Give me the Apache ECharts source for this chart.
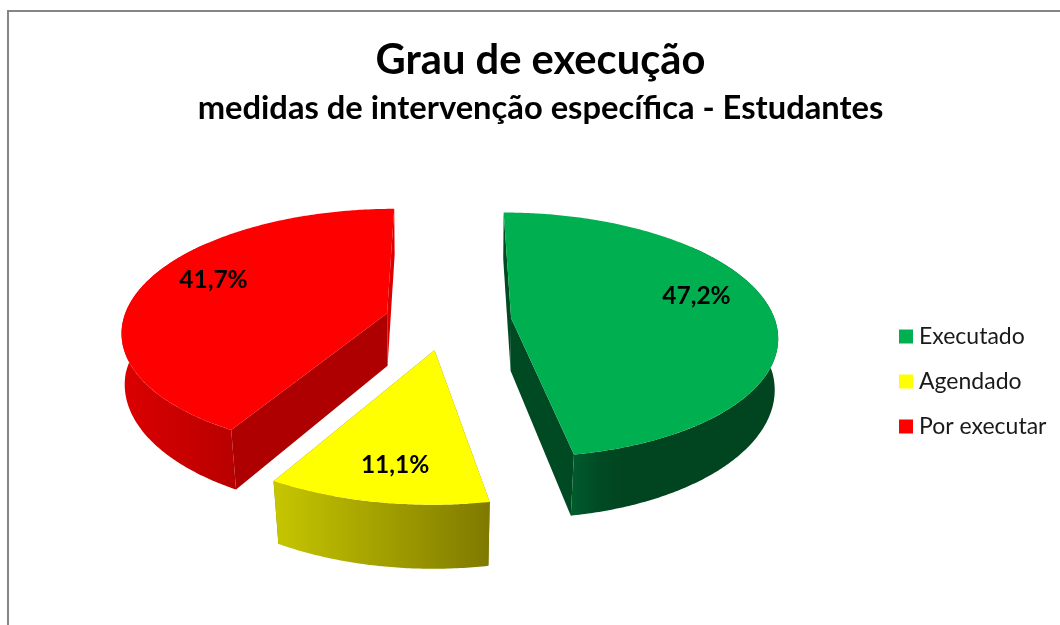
<!DOCTYPE html>
<html>
<head>
<meta charset="utf-8">
<style>html,body{margin:0;padding:0;background:#fff}#c{width:1060px;height:625px}</style>
<script src="https://cdn.jsdelivr.net/npm/echarts@6/dist/echarts.min.js"></script>
</head>
<body>
<div id="c"></div>
<script>
var categories = ['Executado', 'Agendado', 'Por executar'];
var shares = [47.2, 11.1, 41.7];
var percentLabels = ['47,2%', '11,1%', '41,7%'];
var titleText = 'Grau de execução';
var subtitleText = 'medidas de intervenção específica - Estudantes';

var FONT = 'Lato, Carlito, sans-serif';
var looks = [
  { top: '#00b050', face0: '#004a23', face: '#004a23', wall: [[0, '#005c2d'], [0.14, '#004a23'], [0.25, '#004520'], [1, '#004520']], lab: [9, -15], nudge: [0, 0], scale: 1 },
  { top: '#ffff00', face0: '#7f7a00', face: '#7f7a00', wall: [[0, '#c6c600'], [1, '#7f7a00']], lab: [-3, 19], nudge: [-4, 1], scale: 1.025 },
  { top: '#ff0000', face0: '#ae0000', face: '#dd0000', wall: [[0, '#dc0000'], [1, '#b80000']], lab: [-7, -13], nudge: [-3, 0], scale: 1 }
];

// scene geometry: a tilted disc seen in perspective
var CX = 449.5, CY = 320.5, R = 264, EXPLODE = 62, TILT = 0.457, PERSP = 0.138 / 265, DEPTH = 53;
var total = shares.reduce(function (a, b) { return a + b; }, 0);

function project(X, Z, lower, look) {
  var s = 1 / (1 - Z * PERSP);
  var x = CX + X * s, y = CY + Z * TILT * s;
  if (lower) {
    var shrink = 1 - (0.008 + 0.018 * Math.max(0, Z / R));
    x = CX + (x - CX) * shrink;
    y += DEPTH * s;
  }
  return [x + look.nudge[0], y + look.nudge[1]];
}
function sliceFrame(idx) {
  var start = 0;
  for (var i = 0; i < idx; i++) start += shares[i];
  var a0 = start / total * Math.PI * 2;
  var a1 = (start + shares[idx]) / total * Math.PI * 2;
  var mid = (a0 + a1) / 2;
  return { a0: a0, a1: a1, mid: mid, ox: EXPLODE * Math.sin(mid), oz: -EXPLODE * Math.cos(mid), r: R * looks[idx].scale, look: looks[idx] };
}
function rim(f, a, lower) {
  return project(f.ox + f.r * Math.sin(a), f.oz - f.r * Math.cos(a), lower, f.look);
}
function arc(f, from, to, lower) {
  var pts = [], n = Math.max(2, Math.ceil(Math.abs(to - from) / 0.01));
  for (var i = 0; i <= n; i++) pts.push(rim(f, from + (to - from) * i / n, lower));
  return pts;
}
function poly(points, fill) {
  return { type: 'polygon', shape: { points: points }, style: { fill: fill, stroke: null }, silent: true };
}

function renderSlice(idx) {
  return function (params, api) {
    var f = sliceFrame(idx), look = looks[idx], kids = [];
    var apexT = project(f.ox, f.oz, false, look), apexB = project(f.ox, f.oz, true, look);
    // radial faces
    kids.push(poly([apexT, rim(f, f.a0, false), rim(f, f.a0, true), apexB], look.face0));
    kids.push(poly([apexT, rim(f, f.a1, false), rim(f, f.a1, true), apexB], look.face));
    // front arc wall
    var lo = Math.max(f.a0, 50 * Math.PI / 180), hi = Math.min(f.a1, 310 * Math.PI / 180);
    if (hi > lo) {
      var grad = new echarts.graphic.LinearGradient(0, 0, 1, 0, look.wall.map(function (s) {
        return { offset: s[0], color: s[1] };
      }));
      kids.push(poly(arc(f, lo, hi, false).concat(arc(f, hi, lo, true)), grad));
    }
    // top face
    kids.push(poly([apexT].concat(arc(f, f.a0, f.a1, false)), look.top));
    // percentage label
    var share = api.value(0);
    var p = project(f.ox + 0.68 * R * Math.sin(f.mid), f.oz - 0.68 * R * Math.cos(f.mid), false, look);
    kids.push({
      type: 'text', silent: true, z2: 10,
      style: {
        text: percentLabels[shares.indexOf(share)], x: p[0] + look.lab[0], y: p[1] + look.lab[1],
        fill: '#000', font: 'bold 24.5px ' + FONT, textAlign: 'center', textVerticalAlign: 'middle'
      }
    });
    return { type: 'group', children: kids };
  };
}

var chart = echarts.init(document.getElementById('c'), null, { renderer: 'canvas' });
chart.setOption({
  animation: false,
  backgroundColor: '#fff',
  graphic: [{
    type: 'rect', silent: true,
    shape: { x: 8, y: 11, width: 1100, height: 700 },
    style: { fill: 'none', stroke: '#868686', lineWidth: 2 }
  }],
  title: [
    { text: titleText, left: 535.5, top: 35, textAlign: 'center',
      textStyle: { fontFamily: FONT, fontWeight: 'bold', fontSize: 41.7, color: '#000' } },
    { text: subtitleText, left: 535.5, top: 87, textAlign: 'center',
      textStyle: { fontFamily: FONT, fontWeight: 'bold', fontSize: 32.7, color: '#000' } }
  ],
  legend: {
    orient: 'vertical', left: 894, top: 320, itemWidth: 14, itemHeight: 14, itemGap: 22, icon: 'rect',
    itemStyle: { borderWidth: 0 },
    textStyle: { fontFamily: FONT, fontSize: 23, color: '#1a1a1a', padding: [0, 0, 0, 1] },
    data: categories
  },
  series: categories.map(function (name, i) {
    return {
      type: 'custom', name: name, coordinateSystem: 'none',
      itemStyle: { color: looks[i].top },
      renderItem: renderSlice(i),
      data: [[shares[i]]]
    };
  })
});
</script>
</body>
</html>
